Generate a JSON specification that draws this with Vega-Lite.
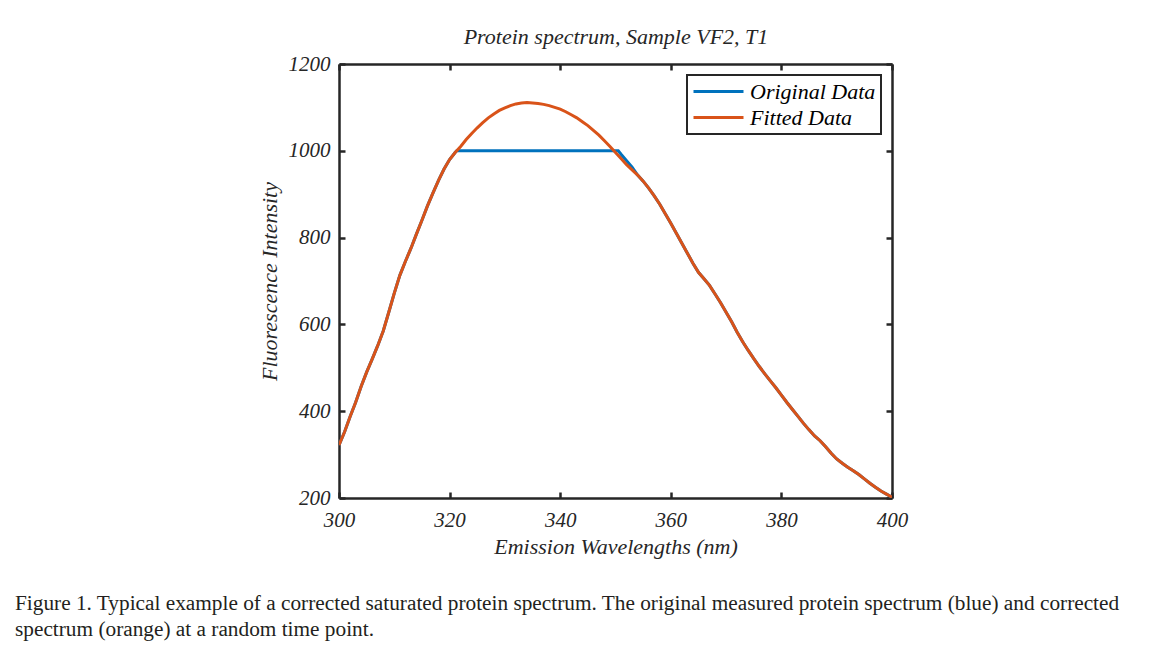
{
  "$schema": "https://vega.github.io/schema/vega-lite/v6.json",
  "width": 553,
  "height": 434,
  "autosize": "none",
  "padding": {"left": 339, "top": 64, "right": 260, "bottom": 155},
  "background": "white",
  "title": {
    "text": ["Figure 1. Typical example of a corrected saturated protein spectrum. The original measured protein spectrum (blue) and corrected", "spectrum (orange) at a random time point."],
    "orient": "bottom",
    "anchor": "start",
    "frame": "group",
    "dx": -324,
    "offset": 36,
    "font": "Liberation Serif",
    "fontSize": 21.3,
    "fontWeight": "normal",
    "color": "#231f20",
    "lineHeight": 26
  },
  "config": {
    "view": {"stroke": null},
    "axis": {
      "grid": false,
      "domainColor": "#262626",
      "domainWidth": 2.5,
      "tickColor": "#262626",
      "tickWidth": 2.5,
      "tickSize": -6,
      "labelFont": "Liberation Serif",
      "labelFontStyle": "italic",
      "labelFontSize": 21,
      "labelColor": "#262626",
      "labelFlush": false,
      "labelOverlap": false,
      "format": "d",
      "titleFont": "Liberation Serif",
      "titleFontStyle": "italic",
      "titleFontWeight": "normal",
      "titleFontSize": 22,
      "titleColor": "#262626"
    },
    "legend": {"strokeWidth": 2}
  },
  "data": {
    "values": [
      {"nm":300,"intensity":322,"series":"Original Data"},{"nm":301,"intensity":352,"series":"Original Data"},{"nm":302,"intensity":387,"series":"Original Data"},{"nm":303,"intensity":420,"series":"Original Data"},{"nm":304,"intensity":457,"series":"Original Data"},{"nm":305,"intensity":490,"series":"Original Data"},{"nm":306,"intensity":520,"series":"Original Data"},{"nm":307,"intensity":551,"series":"Original Data"},{"nm":308,"intensity":585,"series":"Original Data"},{"nm":309,"intensity":628,"series":"Original Data"},{"nm":310,"intensity":672,"series":"Original Data"},{"nm":311,"intensity":713,"series":"Original Data"},{"nm":312,"intensity":745,"series":"Original Data"},{"nm":313,"intensity":775,"series":"Original Data"},{"nm":314,"intensity":808,"series":"Original Data"},{"nm":315,"intensity":840,"series":"Original Data"},{"nm":316,"intensity":873,"series":"Original Data"},{"nm":317,"intensity":903,"series":"Original Data"},{"nm":318,"intensity":932,"series":"Original Data"},{"nm":319,"intensity":958,"series":"Original Data"},{"nm":320,"intensity":980,"series":"Original Data"},{"nm":321,"intensity":996,"series":"Original Data"},{"nm":321.3,"intensity":1000,"series":"Original Data"},{"nm":350.5,"intensity":1000,"series":"Original Data"},{"nm":351,"intensity":992,"series":"Original Data"},{"nm":352,"intensity":977,"series":"Original Data"},{"nm":353,"intensity":962,"series":"Original Data"},{"nm":354,"intensity":944,"series":"Original Data"},{"nm":355,"intensity":930,"series":"Original Data"},{"nm":356,"intensity":914,"series":"Original Data"},{"nm":357,"intensity":896,"series":"Original Data"},{"nm":358,"intensity":877,"series":"Original Data"},{"nm":359,"intensity":855,"series":"Original Data"},{"nm":360,"intensity":833,"series":"Original Data"},{"nm":361,"intensity":810,"series":"Original Data"},{"nm":362,"intensity":787,"series":"Original Data"},{"nm":363,"intensity":764,"series":"Original Data"},{"nm":364,"intensity":741,"series":"Original Data"},{"nm":365,"intensity":720,"series":"Original Data"},{"nm":366,"intensity":705,"series":"Original Data"},{"nm":367,"intensity":690,"series":"Original Data"},{"nm":368,"intensity":670,"series":"Original Data"},{"nm":369,"intensity":650,"series":"Original Data"},{"nm":370,"intensity":628,"series":"Original Data"},{"nm":371,"intensity":606,"series":"Original Data"},{"nm":372,"intensity":582,"series":"Original Data"},{"nm":373,"intensity":560,"series":"Original Data"},{"nm":374,"intensity":540,"series":"Original Data"},{"nm":375,"intensity":521,"series":"Original Data"},{"nm":376,"intensity":503,"series":"Original Data"},{"nm":377,"intensity":486,"series":"Original Data"},{"nm":378,"intensity":470,"series":"Original Data"},{"nm":379,"intensity":454,"series":"Original Data"},{"nm":380,"intensity":437,"series":"Original Data"},{"nm":381,"intensity":420,"series":"Original Data"},{"nm":382,"intensity":404,"series":"Original Data"},{"nm":383,"intensity":388,"series":"Original Data"},{"nm":384,"intensity":372,"series":"Original Data"},{"nm":385,"intensity":357,"series":"Original Data"},{"nm":386,"intensity":343,"series":"Original Data"},{"nm":387,"intensity":332,"series":"Original Data"},{"nm":388,"intensity":318,"series":"Original Data"},{"nm":389,"intensity":303,"series":"Original Data"},{"nm":390,"intensity":290,"series":"Original Data"},{"nm":391,"intensity":280,"series":"Original Data"},{"nm":392,"intensity":271,"series":"Original Data"},{"nm":393,"intensity":263,"series":"Original Data"},{"nm":394,"intensity":254,"series":"Original Data"},{"nm":395,"intensity":244,"series":"Original Data"},{"nm":396,"intensity":234,"series":"Original Data"},{"nm":397,"intensity":225,"series":"Original Data"},{"nm":398,"intensity":216,"series":"Original Data"},{"nm":399,"intensity":209,"series":"Original Data"},{"nm":400,"intensity":202,"series":"Original Data"},
      {"nm":300,"intensity":322,"series":"Fitted Data"},{"nm":301,"intensity":352,"series":"Fitted Data"},{"nm":302,"intensity":387,"series":"Fitted Data"},{"nm":303,"intensity":420,"series":"Fitted Data"},{"nm":304,"intensity":457,"series":"Fitted Data"},{"nm":305,"intensity":490,"series":"Fitted Data"},{"nm":306,"intensity":520,"series":"Fitted Data"},{"nm":307,"intensity":551,"series":"Fitted Data"},{"nm":308,"intensity":585,"series":"Fitted Data"},{"nm":309,"intensity":628,"series":"Fitted Data"},{"nm":310,"intensity":672,"series":"Fitted Data"},{"nm":311,"intensity":713,"series":"Fitted Data"},{"nm":312,"intensity":745,"series":"Fitted Data"},{"nm":313,"intensity":775,"series":"Fitted Data"},{"nm":314,"intensity":808,"series":"Fitted Data"},{"nm":315,"intensity":840,"series":"Fitted Data"},{"nm":316,"intensity":873,"series":"Fitted Data"},{"nm":317,"intensity":903,"series":"Fitted Data"},{"nm":318,"intensity":932,"series":"Fitted Data"},{"nm":319,"intensity":958,"series":"Fitted Data"},{"nm":320,"intensity":980,"series":"Fitted Data"},{"nm":321,"intensity":996,"series":"Fitted Data"},{"nm":322,"intensity":1010,"series":"Fitted Data"},{"nm":323,"intensity":1026,"series":"Fitted Data"},{"nm":324,"intensity":1040,"series":"Fitted Data"},{"nm":325,"intensity":1053,"series":"Fitted Data"},{"nm":326,"intensity":1065,"series":"Fitted Data"},{"nm":327,"intensity":1076,"series":"Fitted Data"},{"nm":328,"intensity":1085,"series":"Fitted Data"},{"nm":329,"intensity":1093,"series":"Fitted Data"},{"nm":330,"intensity":1099,"series":"Fitted Data"},{"nm":331,"intensity":1104,"series":"Fitted Data"},{"nm":332,"intensity":1108,"series":"Fitted Data"},{"nm":333,"intensity":1110,"series":"Fitted Data"},{"nm":334,"intensity":1111,"series":"Fitted Data"},{"nm":335,"intensity":1110,"series":"Fitted Data"},{"nm":336,"intensity":1109,"series":"Fitted Data"},{"nm":337,"intensity":1107,"series":"Fitted Data"},{"nm":338,"intensity":1104,"series":"Fitted Data"},{"nm":339,"intensity":1100,"series":"Fitted Data"},{"nm":340,"intensity":1096,"series":"Fitted Data"},{"nm":341,"intensity":1090,"series":"Fitted Data"},{"nm":342,"intensity":1083,"series":"Fitted Data"},{"nm":343,"intensity":1076,"series":"Fitted Data"},{"nm":344,"intensity":1067,"series":"Fitted Data"},{"nm":345,"intensity":1058,"series":"Fitted Data"},{"nm":346,"intensity":1047,"series":"Fitted Data"},{"nm":347,"intensity":1036,"series":"Fitted Data"},{"nm":348,"intensity":1023,"series":"Fitted Data"},{"nm":349,"intensity":1010,"series":"Fitted Data"},{"nm":350,"intensity":996,"series":"Fitted Data"},{"nm":351,"intensity":982,"series":"Fitted Data"},{"nm":352,"intensity":968,"series":"Fitted Data"},{"nm":353,"intensity":956,"series":"Fitted Data"},{"nm":354,"intensity":944,"series":"Fitted Data"},{"nm":355,"intensity":930,"series":"Fitted Data"},{"nm":356,"intensity":914,"series":"Fitted Data"},{"nm":357,"intensity":896,"series":"Fitted Data"},{"nm":358,"intensity":877,"series":"Fitted Data"},{"nm":359,"intensity":855,"series":"Fitted Data"},{"nm":360,"intensity":833,"series":"Fitted Data"},{"nm":361,"intensity":810,"series":"Fitted Data"},{"nm":362,"intensity":787,"series":"Fitted Data"},{"nm":363,"intensity":764,"series":"Fitted Data"},{"nm":364,"intensity":741,"series":"Fitted Data"},{"nm":365,"intensity":720,"series":"Fitted Data"},{"nm":366,"intensity":705,"series":"Fitted Data"},{"nm":367,"intensity":690,"series":"Fitted Data"},{"nm":368,"intensity":670,"series":"Fitted Data"},{"nm":369,"intensity":650,"series":"Fitted Data"},{"nm":370,"intensity":628,"series":"Fitted Data"},{"nm":371,"intensity":606,"series":"Fitted Data"},{"nm":372,"intensity":582,"series":"Fitted Data"},{"nm":373,"intensity":560,"series":"Fitted Data"},{"nm":374,"intensity":540,"series":"Fitted Data"},{"nm":375,"intensity":521,"series":"Fitted Data"},{"nm":376,"intensity":503,"series":"Fitted Data"},{"nm":377,"intensity":486,"series":"Fitted Data"},{"nm":378,"intensity":470,"series":"Fitted Data"},{"nm":379,"intensity":454,"series":"Fitted Data"},{"nm":380,"intensity":437,"series":"Fitted Data"},{"nm":381,"intensity":420,"series":"Fitted Data"},{"nm":382,"intensity":404,"series":"Fitted Data"},{"nm":383,"intensity":388,"series":"Fitted Data"},{"nm":384,"intensity":372,"series":"Fitted Data"},{"nm":385,"intensity":357,"series":"Fitted Data"},{"nm":386,"intensity":343,"series":"Fitted Data"},{"nm":387,"intensity":332,"series":"Fitted Data"},{"nm":388,"intensity":318,"series":"Fitted Data"},{"nm":389,"intensity":303,"series":"Fitted Data"},{"nm":390,"intensity":290,"series":"Fitted Data"},{"nm":391,"intensity":280,"series":"Fitted Data"},{"nm":392,"intensity":271,"series":"Fitted Data"},{"nm":393,"intensity":263,"series":"Fitted Data"},{"nm":394,"intensity":254,"series":"Fitted Data"},{"nm":395,"intensity":244,"series":"Fitted Data"},{"nm":396,"intensity":234,"series":"Fitted Data"},{"nm":397,"intensity":225,"series":"Fitted Data"},{"nm":398,"intensity":216,"series":"Fitted Data"},{"nm":399,"intensity":209,"series":"Fitted Data"},{"nm":400,"intensity":202,"series":"Fitted Data"}
    ]
  },
  "resolve": {"axis": {"x": "independent", "y": "independent"}},
  "layer": [
    {
      "transform": [{"filter": "datum.series === 'Original Data'"}],
      "mark": {"type": "line", "strokeWidth": 3, "clip": true},
      "encoding": {
        "x": {"field": "nm", "type": "quantitative", "scale": {"domain": [300, 400], "nice": false},
              "axis": {"orient": "bottom", "values": [300, 320, 340, 360, 380, 400], "title": "Emission Wavelengths (nm)", "labelPadding": 17, "titlePadding": 6}},
        "y": {"field": "intensity", "type": "quantitative", "scale": {"domain": [200, 1200], "nice": false, "zero": false},
              "axis": {"orient": "left", "values": [200, 400, 600, 800, 1000, 1200], "title": "Fluorescence Intensity", "labelPadding": 15, "titlePadding": 7}},
        "color": {"field": "series", "type": "nominal",
                  "scale": {"domain": ["Original Data", "Fitted Data"], "range": ["#0072BD", "#D95319"]},
                  "legend": {"title": null, "orient": "top-right", "offset": 11, "strokeColor": "#262626", "fillColor": "white", "padding": 5,
                             "symbolType": "M-1,0H4", "symbolSize": 400, "symbolStrokeWidth": 3,
                             "labelFont": "Liberation Serif", "labelFontStyle": "italic", "labelFontSize": 22, "labelColor": "#000000", "labelOffset": 35, "rowPadding": 3}}
      }
    },
    {
      "transform": [{"filter": "datum.series === 'Fitted Data'"}],
      "mark": {"type": "line", "strokeWidth": 3, "clip": true},
      "encoding": {
        "x": {"field": "nm", "type": "quantitative",
              "axis": {"orient": "top", "values": [300, 320, 340, 360, 380, 400], "labels": false, "title": "Protein spectrum, Sample VF2, T1", "titleFontSize": 22, "titlePadding": 14}},
        "y": {"field": "intensity", "type": "quantitative",
              "axis": {"orient": "right", "values": [200, 400, 600, 800, 1000, 1200], "labels": false, "title": null}},
        "color": {"field": "series", "type": "nominal",
                  "legend": {"title": null, "orient": "top-right", "offset": 11, "strokeColor": "#262626", "fillColor": "white", "padding": 5,
                             "symbolType": "M-1,0H4", "symbolSize": 400, "symbolStrokeWidth": 3,
                             "labelFont": "Liberation Serif", "labelFontStyle": "italic", "labelFontSize": 22, "labelColor": "#000000", "labelOffset": 35, "rowPadding": 3}}
      }
    }
  ]
}
